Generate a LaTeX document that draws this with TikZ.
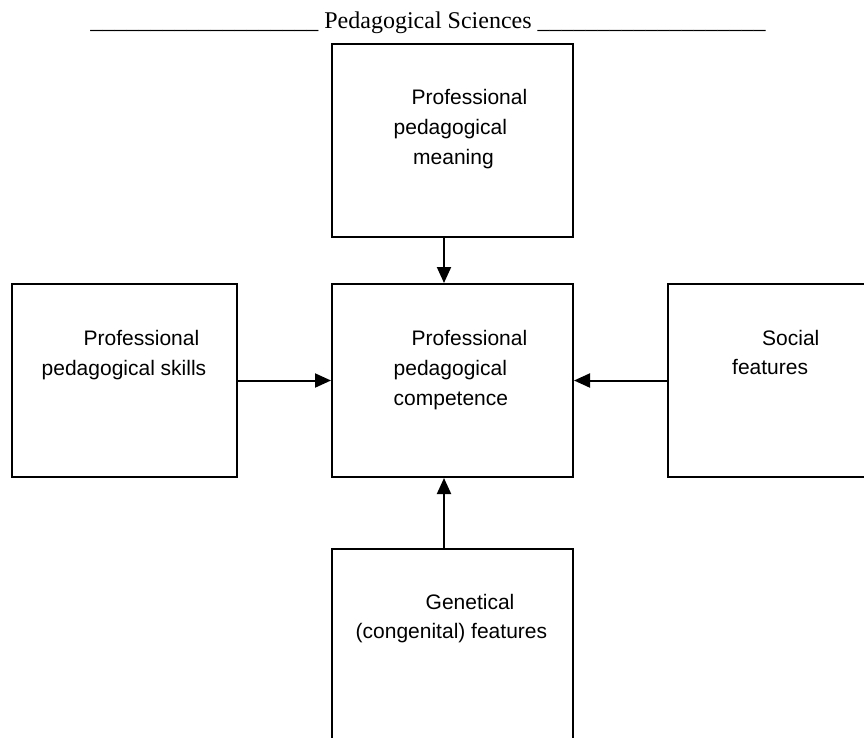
\documentclass[tikz,border=0pt]{standalone}
\usepackage{fontspec}
\setmainfont{Liberation Sans}
\newfontfamily\headfont{Liberation Serif}
\usetikzlibrary{arrows.meta}

\begin{document}
\begin{tikzpicture}[x=1pt, y=-1pt,
  box/.style={draw, line width=2pt, rectangle, inner sep=0pt, minimum width=241pt, minimum height=193pt},
  lbl/.style={anchor=base west, inner sep=0pt, font=\fontsize{21}{25}\selectfont},
  arr/.style={line width=2pt, -{Triangle[length=16pt, width=14pt]}},
  head/.style={anchor=base, inner sep=0pt, font=\headfont\fontsize{24}{28}\selectfont}
]
\useasboundingbox (0,0) rectangle (864,737);

% heading line
\node[head] (title) at (428,28) {\textunderscore\textunderscore\textunderscore\textunderscore\textunderscore\textunderscore\textunderscore\textunderscore\textunderscore\textunderscore\textunderscore\textunderscore\textunderscore\textunderscore\textunderscore\textunderscore\textunderscore\textunderscore\textunderscore{} Pedagogical Sciences \textunderscore\textunderscore\textunderscore\textunderscore\textunderscore\textunderscore\textunderscore\textunderscore\textunderscore\textunderscore\textunderscore\textunderscore\textunderscore\textunderscore\textunderscore\textunderscore\textunderscore\textunderscore\textunderscore};

% boxes
\node[box] (meaning) at (452.5,140.5) {};
\node[box] (comp) at (452.5,380.5) {};
\node[box, minimum width=225pt] (skills) at (124.5,380.5) {};
\node[box, minimum width=232pt] (social) at (784,380.5) {};
\node[box, minimum height=215pt] (genet) at (452.5,656.5) {};

% box texts
\node[lbl] (m1) at (411.5,104) {Professional};
\node[lbl] (m2) at (393.5,134) {pedagogical};
\node[lbl] (m3) at (413,164) {meaning};

\node[lbl] (c1) at (411.5,345) {Professional};
\node[lbl] (c2) at (393.5,375) {pedagogical};
\node[lbl] (c3) at (393.5,405) {competence};

\node[lbl] (s1) at (83.5,345) {Professional};
\node[lbl] (s2) at (41.5,375) {pedagogical skills};

\node[lbl] (f1) at (762,345) {Social};
\node[lbl] (f2) at (732,374) {features};

\node[lbl] (g1) at (425.5,609) {Genetical};
\node[lbl] (g2) at (355.5,638) {(congenital) features};

% connectors
\coordinate (vx) at (444,0);
\draw[arr] (meaning.south -| vx) -- (comp.north -| vx);
\draw[arr] (genet.north -| vx) -- (comp.south -| vx);
\draw[arr] (skills.east) -- (comp.west);
\draw[arr] (social.west) -- (comp.east);
\end{tikzpicture}
\end{document}
